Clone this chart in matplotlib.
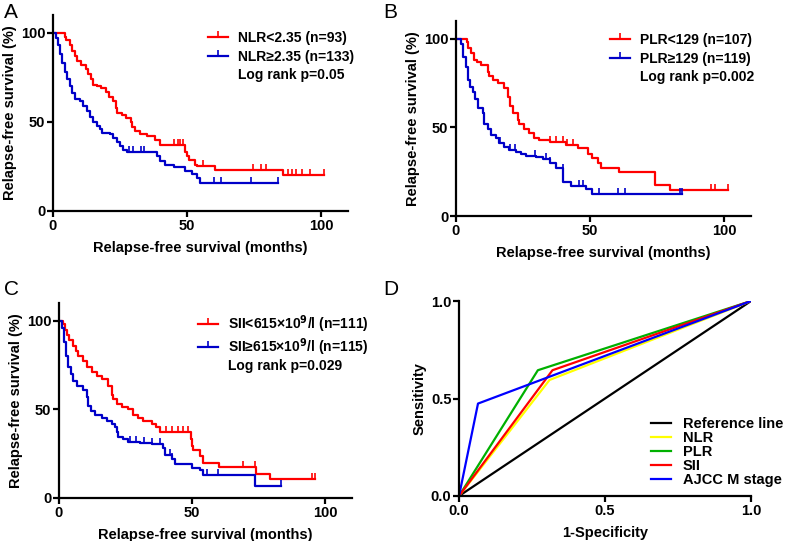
import matplotlib
matplotlib.use("Agg")
import matplotlib.pyplot as plt
from matplotlib.lines import Line2D

plt.rcParams['font.family'] = ['Liberation Sans', 'DejaVu Sans']
plt.rcParams['font.weight'] = 'bold'
plt.rcParams['axes.labelweight'] = 'bold'
plt.rcParams['mathtext.default'] = 'bf'

# ---------------- Data ----------------
# Panel A
a_low_t = [0, 4.4, 5.0, 6.25, 7.2, 8.1, 9.0, 10.6, 12.2, 13.0, 14.0, 15.0, 16.5, 18.0, 19.7, 21.0, 22.5, 23.5, 24.0, 25.6, 27.2, 29.0, 29.6, 30.6, 32.5, 35.0, 38.0, 39.75, 49.4, 50.0, 50.8, 53.1, 53.75, 60.6, 85.6, 101.25]
a_low_s = [100, 98, 96, 93, 90, 87, 84, 82, 80, 77, 74, 71, 70, 69, 67, 64, 62, 58, 55, 54, 52, 50, 47, 45, 43, 42, 40, 37, 33, 31, 28.5, 26, 25, 23, 20, 20]
a_low_c = [45, 46.5, 47.5, 48.5, 56, 74.5, 77.5, 79.4, 87.5, 89, 90.5, 93, 96, 101.25]
a_high_t = [0, 1.0, 1.9, 2.75, 3.5, 4.4, 5.25, 6.25, 7.1, 8.1, 10.0, 11.25, 12.75, 13.75, 14.75, 16.25, 17.5, 18.1, 21.25, 22.5, 23.75, 25.0, 26.25, 27.5, 38.75, 40.0, 41.9, 45.0, 49.4, 51.9, 53.75, 55.0, 83.75]
a_high_s = [100, 97, 93, 88, 83, 78, 74, 70, 66, 63, 62, 59, 56, 53, 50, 48, 46, 44, 43.5, 41, 39, 36.5, 34.5, 33, 31, 28, 26, 24.5, 22.5, 21, 18.5, 15.5, 15.5]
a_high_c = [28.5, 30, 33, 34, 60, 62.5, 73.75, 83.75]

# Panel B
b_low_t = [0, 4.0, 4.4, 5.6, 6.85, 7.7, 9.3, 11.8, 12.5, 13.7, 15.6, 18.0, 19.3, 20.2, 21.4, 23.0, 23.7, 25.5, 27.1, 29.3, 31.1, 34.9, 41.1, 45.5, 49.2, 50.8, 52.9, 54.2, 60.8, 74.1, 79.7, 88.2, 101.5]
b_low_s = [100, 98, 95, 92, 88, 87, 85, 81, 79, 77, 75, 72, 67, 62, 58, 54, 52, 49, 47, 44, 43, 42, 40, 38.5, 35, 33, 30, 27, 25, 17.5, 14.5, 14.5, 14.5]
b_low_c = [35, 37.5, 40, 41.5, 43.5, 74.1, 95.2, 96.5, 101.5]
b_high_t = [0, 1.9, 2.7, 3.7, 4.4, 5.2, 6.2, 7.2, 8.1, 10.0, 10.6, 11.8, 13.1, 14.9, 16.2, 18.0, 19.9, 22.4, 24.3, 26.2, 29.9, 32.4, 34.9, 37.4, 39.9, 40.1, 43.0, 48.6, 50.7, 84.1]
b_high_s = [100, 97, 90, 84, 77, 73, 70, 66, 61, 58, 52, 49, 46, 44, 41, 39, 37.5, 36, 35, 34, 33.5, 32, 30, 27, 26, 19, 17, 15, 12.5, 12.5]
b_high_c = [16.5, 20, 22, 29.5, 33.5, 35, 39.9, 46, 47.5, 53.5, 60.5, 63, 83.5, 84.1]

# Panel C
c_low_t = [0, 1.6, 2.2, 2.9, 3.9, 5.1, 6.4, 7.25, 9.1, 10.6, 12.25, 14.1, 16.0, 18.5, 19.75, 20.1, 21.6, 23.5, 26.0, 27.9, 29.75, 31.6, 34.75, 36.6, 37.9, 40.4, 49.4, 50.0, 50.4, 52.9, 54.1, 60.0, 74.1, 79.1, 87.25, 96.0]
c_low_s = [100, 98, 95, 92, 89, 86, 83, 80, 77, 74, 71, 69, 67, 63, 58, 56, 53, 51.5, 50, 47, 45, 43.5, 42, 40, 37.5, 37.5, 33, 29.5, 27, 23.5, 20, 17.5, 13.5, 10.5, 10.5, 10.5]
c_low_c = [40, 42.5, 44.5, 46.5, 48.5, 69, 73.5, 94.8, 96.0]
c_high_t = [0, 1.0, 1.9, 2.6, 3.5, 4.4, 5.4, 6.9, 9.1, 10.6, 11.0, 11.9, 13.5, 16.0, 17.9, 19.75, 21.0, 21.6, 22.25, 24.1, 26.0, 30.4, 35.0, 39.1, 39.75, 42.25, 43.5, 49.75, 52.9, 53.9, 73.5, 83.5]
c_high_s = [100, 96, 88, 80, 74, 70, 66, 63, 61, 57, 52, 49, 47, 45, 43.5, 42, 40, 37, 34.5, 33, 31.5, 31, 30.5, 28, 24, 22, 19, 17, 16, 13, 6.5, 6.5]
c_high_c = [26.5, 29, 32, 35, 38, 41.5, 42.5, 55.5, 59.5, 83.5]

# Panel D (ROC)
roc_names = ['Reference line', 'NLR', 'PLR', 'SII', 'AJCC M stage']
roc_x = [[0, 1], [0, 0.31, 1], [0, 0.27, 1], [0, 0.32, 1], [0, 0.065, 1]]
roc_y = [[0, 1], [0, 0.595, 1], [0, 0.645, 1], [0, 0.645, 1], [0, 0.474, 1]]
roc_colors = ['black', '#FFFF00', '#00B000', '#FF0000', '#0000FF']

km_ticks = [0, 50, 100]
roc_ticks = [0, 0.5, 1.0]
roc_ticklabels = ['0.0', '0.5', '1.0']

RED = '#FF0000'
BLUE = '#0000C8'
FS = 10.5
LFS = 10

fig = plt.figure(figsize=(7.86, 5.41), dpi=100)

def style_axes(ax):
    for s in ['top', 'right']:
        ax.spines[s].set_visible(False)
    for s in ['left', 'bottom']:
        ax.spines[s].set_linewidth(1.6)
    ax.tick_params(direction='out', length=4, width=1.6, labelsize=FS, pad=1.5)

def km_panel(rect, curves, labels, ptext, letter, letter_pos, anchor, lspace):
    ax = fig.add_axes(rect)
    handles = []
    for (t, s, c, col), lab in zip(curves, labels):
        ax.step(t, s, where='post', color=col, lw=1.6)
        cs = []
        for ci in c:
            val = s[0]
            for ti, si in zip(t, s):
                if ti <= ci:
                    val = si
            cs.append(val)
        ax.plot(c, cs, linestyle='none', marker=2, markersize=4, mew=1.2, color=col)
        handles.append(Line2D([0], [0], color=col, lw=1.6, marker=2, markersize=4, mew=1.2))
    handles.append(Line2D([0], [0], color='none'))
    ax.legend(handles, labels + [ptext], loc='upper left', bbox_to_anchor=anchor,
              bbox_transform=fig.transFigure,
              frameon=False, prop={'weight': 'bold', 'size': LFS}, handlelength=1.45,
              handletextpad=0.72, labelspacing=lspace, borderaxespad=0.0, borderpad=0.0)
    ax.set_xlim(0, 110)
    ax.set_ylim(0, 110)
    ax.set_xticks(km_ticks, [str(v) for v in km_ticks], fontweight='bold')
    ax.set_yticks(km_ticks, [str(v) for v in km_ticks], fontweight='bold')
    ax.set_xlabel('Relapse-free survival (months)', fontsize=FS, fontweight='bold', labelpad=6)
    ax.set_ylabel('Relapse-free survival (%)', fontsize=FS, fontweight='bold', labelpad=3)
    style_axes(ax)
    fig.text(letter_pos[0], letter_pos[1], letter, fontsize=15, fontweight='normal', ha='left', va='top')
    return ax

km_panel([0.0674, 0.610, 0.3753, 0.362],
         [(a_low_t, a_low_s, a_low_c, RED), (a_high_t, a_high_s, a_high_c, BLUE)],
         ['NLR<2.35 (n=93)', 'NLR\u22652.35 (n=133)'], 'Log rank p=0.05', 'A', (0.005, 0.995),
         (0.2646, 0.9427), 0.33)
km_panel([0.580, 0.6007, 0.3755, 0.3603],
         [(b_low_t, b_low_s, b_low_c, RED), (b_high_t, b_high_s, b_high_c, BLUE)],
         ['PLR<129 (n=107)', 'PLR\u2265129 (n=119)'], 'Log rank p=0.002', 'B', (0.488, 0.995),
         (0.776, 0.939), 0.33)
km_panel([0.075, 0.0795, 0.373, 0.3605],
         [(c_low_t, c_low_s, c_low_c, RED), (c_high_t, c_high_s, c_high_c, BLUE)],
         ['SII<615\u00d710$^{9}$/l (n=111)', 'SII\u2265615\u00d710$^{9}$/l (n=115)'], 'Log rank p=0.029', 'C',
         (0.005, 0.483), (0.252, 0.4216), 0.12)

# Panel D
axd = fig.add_axes([0.584, 0.0832, 0.3715, 0.3604])
for xs, ys, col, nm in zip(roc_x, roc_y, roc_colors, roc_names):
    axd.plot(xs, ys, color=col, lw=1.6, label=nm)
axd.set_xlim(0, 1)
axd.set_ylim(0, 1)
axd.set_xticks(roc_ticks, roc_ticklabels, fontweight='bold')
axd.set_yticks(roc_ticks, roc_ticklabels, fontweight='bold')
axd.set_xlabel('1-Specificity', fontsize=FS, fontweight='bold', labelpad=6)
axd.set_ylabel('Sensitivity', fontsize=FS, fontweight='bold', labelpad=3)
style_axes(axd)
axd.legend(loc='upper left', bbox_to_anchor=(0.828, 0.229), bbox_transform=fig.transFigure,
           frameon=False, prop={'weight': 'bold', 'size': FS}, handlelength=1.4, handletextpad=0.8,
           labelspacing=0.0, borderaxespad=0.0, borderpad=0.0)
fig.text(0.488, 0.483, 'D', fontsize=15, fontweight='normal', ha='left', va='top')

fig.savefig('out.png', dpi=100)
